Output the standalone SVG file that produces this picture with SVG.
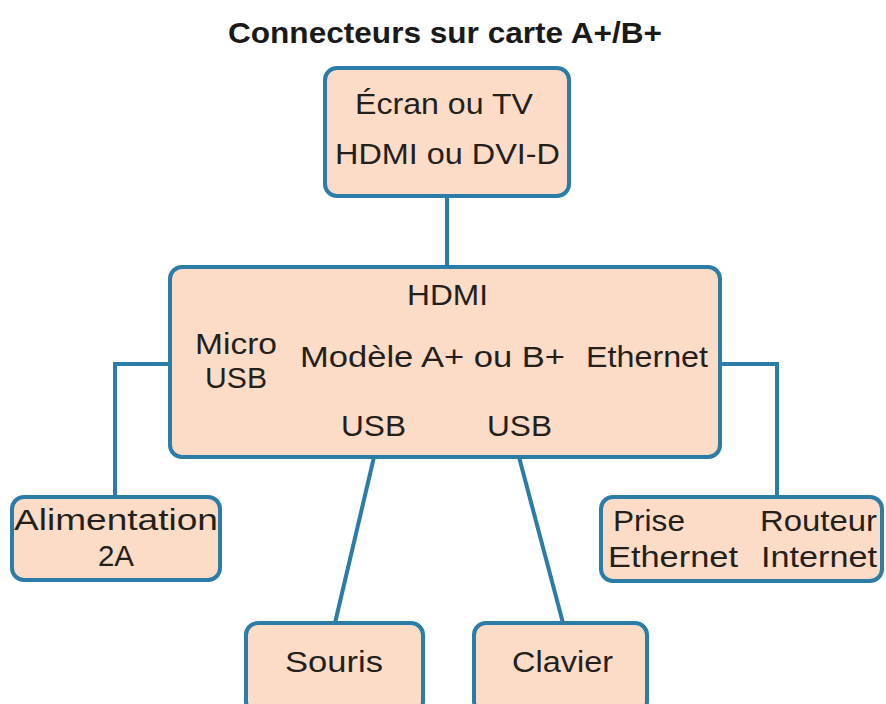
<svg xmlns="http://www.w3.org/2000/svg" width="886" height="704" viewBox="0 0 886 704">
<style>
.box{fill:#fcdcc7;stroke:#2b7ca6;stroke-width:4}
.t{font-family:"Liberation Sans",Arial,sans-serif;font-size:29.5px;fill:#241f1b}
.c{text-anchor:middle}
.title{font-family:"Liberation Sans",Arial,sans-serif;font-size:30px;font-weight:bold;fill:#1a1a1a}
.ln{fill:none;stroke:#2b7ca6;stroke-width:4}
</style>
<rect width="886" height="704" fill="#ffffff"/>
<text class="title" x="228" y="43" textLength="434" lengthAdjust="spacingAndGlyphs">Connecteurs sur carte A+/B+</text>
<g id="connectors">
<line class="ln" x1="447" y1="196" x2="447" y2="268"/>
<polyline class="ln" points="170,364 115,364 115,498"/>
<polyline class="ln" points="720,364 777,364 777,498"/>
<line class="ln" x1="374" y1="457" x2="335" y2="623"/>
<line class="ln" x1="519" y1="457" x2="563" y2="623"/>
</g>
<g id="ecran">
<rect class="box" x="325" y="68" width="244" height="128" rx="12"/>
<text class="t" x="355" y="114" textLength="178" lengthAdjust="spacingAndGlyphs">Écran ou TV</text>
<text class="t" x="335" y="164" textLength="225" lengthAdjust="spacingAndGlyphs">HDMI ou DVI-D</text>
</g>
<g id="modele">
<rect class="box" x="170" y="267" width="550" height="190" rx="12"/>
<text class="t" x="407" y="305" textLength="81" lengthAdjust="spacingAndGlyphs">HDMI</text>
<text class="t" x="195" y="354" textLength="82" lengthAdjust="spacingAndGlyphs">Micro</text>
<text class="t" x="205" y="388" textLength="62" lengthAdjust="spacingAndGlyphs">USB</text>
<text class="t" x="300" y="367" textLength="265" lengthAdjust="spacingAndGlyphs">Modèle A+ ou B+</text>
<text class="t" x="586" y="367" textLength="122" lengthAdjust="spacingAndGlyphs">Ethernet</text>
<text class="t" x="341" y="436" textLength="65" lengthAdjust="spacingAndGlyphs">USB</text>
<text class="t" x="487" y="436" textLength="65" lengthAdjust="spacingAndGlyphs">USB</text>
</g>
<g id="alimentation">
<rect class="box" x="12" y="497" width="208" height="83" rx="12"/>
<text class="t" x="14" y="530" textLength="204" lengthAdjust="spacingAndGlyphs">Alimentation</text>
<text class="t c" x="116" y="566">2A</text>
</g>
<g id="prise">
<rect class="box" x="601" y="497" width="281" height="84" rx="12"/>
<text class="t" x="613" y="531" textLength="72" lengthAdjust="spacingAndGlyphs">Prise</text>
<text class="t" x="608" y="567" textLength="130" lengthAdjust="spacingAndGlyphs">Ethernet</text>
<text class="t" x="760" y="531" textLength="117" lengthAdjust="spacingAndGlyphs">Routeur</text>
<text class="t" x="761" y="567" textLength="116" lengthAdjust="spacingAndGlyphs">Internet</text>
</g>
<g id="souris">
<rect class="box" x="246" y="623" width="177" height="90" rx="12"/>
<text class="t" x="285" y="672" textLength="98" lengthAdjust="spacingAndGlyphs">Souris</text>
</g>
<g id="clavier">
<rect class="box" x="474" y="623" width="173" height="90" rx="12"/>
<text class="t" x="512" y="672" textLength="101" lengthAdjust="spacingAndGlyphs">Clavier</text>
</g>
</svg>
